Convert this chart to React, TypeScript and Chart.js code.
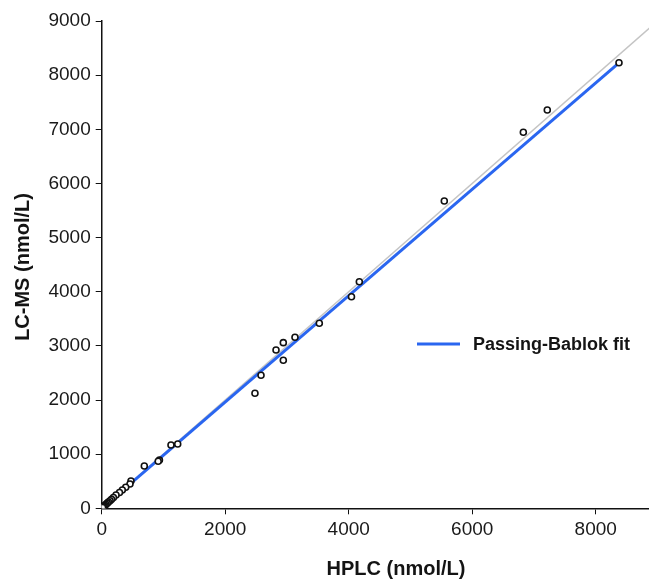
import React, { useEffect, useRef } from "react";
import { Chart, registerables } from "chart.js";

Chart.register(...registerables);

// HPLC (x) vs LC-MS (y), nmol/L
const hplc = [8377, 7216, 6828, 5548, 4172, 4045, 3524, 3130, 2941, 2823, 2941, 2580, 2482, 1231, 1122, 935, 915, 690, 474, 458, 389, 334, 288, 232, 190, 160, 135, 110, 90, 70, 55, 40, 25, 15];
const lcms = [8230, 7357, 6945, 5676, 4185, 3908, 3417, 3159, 3059, 2924, 2734, 2457, 2124, 1188, 1169, 890, 870, 781, 504, 449, 388, 338, 292, 246, 200, 165, 140, 115, 95, 75, 55, 40, 30, 15];

// Passing-Bablok fit line endpoints
const fitX = [15, 8377];
const fitY = [12, 8225];

// Identity line (y = x)
const idX = [0, 9000];
const idY = [0, 9000];

const xTicks = [0, 2000, 4000, 6000, 8000];
const yTicks = [0, 1000, 2000, 3000, 4000, 5000, 6000, 7000, 8000, 9000];

const xTitle = "HPLC (nmol/L)";
const yTitle = "LC-MS (nmol/L)";
const fitLabel = "Passing-Bablok fit";

const FONT = "'Liberation Sans', Arial, Helvetica, sans-serif";
const BLUE = "#2a66f0";

export default function App() {
  const ref = useRef<HTMLCanvasElement | null>(null);

  useEffect(() => {
    if (!ref.current) return;
    const overlay = {
      id: "overlay",
      afterDraw(chart: any) {
        const ctx = chart.ctx as CanvasRenderingContext2D;
        ctx.save();
        ctx.fillStyle = "#141414";
        ctx.font = `bold 20px ${FONT}`;
        ctx.textAlign = "center";
        ctx.textBaseline = "middle";
        ctx.fillText(xTitle, 396, 569);
        ctx.translate(23, 267);
        ctx.rotate(-Math.PI / 2);
        ctx.fillText(yTitle, 0, 0);
        ctx.restore();

        ctx.save();
        ctx.strokeStyle = BLUE;
        ctx.lineWidth = 3;
        ctx.beginPath();
        ctx.moveTo(417, 344);
        ctx.lineTo(460, 344);
        ctx.stroke();
        ctx.fillStyle = "#141414";
        ctx.font = `bold 18px ${FONT}`;
        ctx.textAlign = "left";
        ctx.textBaseline = "middle";
        ctx.fillText(fitLabel, 473, 345);
        ctx.restore();
      },
    };

    const chart = new Chart(ref.current, {
      type: "scatter",
      data: {
        datasets: [
          {
            label: "points",
            data: hplc.map((x, i) => ({ x, y: lcms[i] })),
            pointRadius: 3,
            pointBorderWidth: 1.6,
            borderColor: "#111",
            backgroundColor: "#ffffff",
            order: 0,
          },
          {
            label: fitLabel,
            type: "line",
            data: fitX.map((x, i) => ({ x, y: fitY[i] })),
            borderColor: BLUE,
            borderWidth: 3,
            pointRadius: 0,
            fill: false,
            order: 1,
          },
          {
            label: "identity",
            type: "line",
            data: idX.map((x, i) => ({ x, y: idY[i] })),
            borderColor: "#c4c4c4",
            borderWidth: 1.5,
            pointRadius: 0,
            fill: false,
            order: 2,
          },
        ],
      },
      options: {
        responsive: false,
        animation: false,
        devicePixelRatio: 1,
        layout: { autoPadding: false, padding: { top: 21, left: 0, right: 0, bottom: 0 } },
        plugins: {
          legend: { display: false },
          tooltip: { enabled: false },
        },
        scales: {
          x: {
            type: "linear",
            min: 0,
            max: 8863,
            afterBuildTicks: (s: any) => {
              s.ticks = xTicks.map((v) => ({ value: v }));
            },
            afterFit: (s: any) => {
              s.height = 70.7;
              s.paddingLeft = 0;
              s.paddingRight = 0;
            },
            grid: {
              drawOnChartArea: false,
              drawTicks: true,
              tickLength: 6,
              color: "#111",
              lineWidth: 1,
            },
            border: { display: true, color: "#111", width: 1.5 },
            ticks: {
              color: "#1a1a1a",
              font: { size: 19, family: FONT },
              padding: 4,
              maxRotation: 0,
              callback: (v: any) => String(v),
            },
          },
          y: {
            type: "linear",
            min: 0,
            max: 9000,
            afterBuildTicks: (s: any) => {
              s.ticks = yTicks.map((v) => ({ value: v }));
            },
            afterFit: (s: any) => {
              s.width = 101.7;
              s.paddingTop = 0;
              s.paddingBottom = 0;
            },
            grid: {
              drawOnChartArea: false,
              drawTicks: true,
              tickLength: 6,
              color: "#111",
              lineWidth: 1,
            },
            border: { display: true, color: "#111", width: 1.5 },
            ticks: {
              color: "#1a1a1a",
              font: { size: 19, family: FONT },
              padding: 5,
              callback: (v: any) => String(v),
            },
          },
        },
      },
      plugins: [overlay],
    });
    return () => chart.destroy();
  }, []);

  return (
    <div style={{ position: "absolute", left: 0, top: 0, width: 649, height: 579, background: "#fff" }}>
      <canvas ref={ref} width={649} height={579} style={{ width: 649, height: 579, display: "block" }} />
    </div>
  );
}
